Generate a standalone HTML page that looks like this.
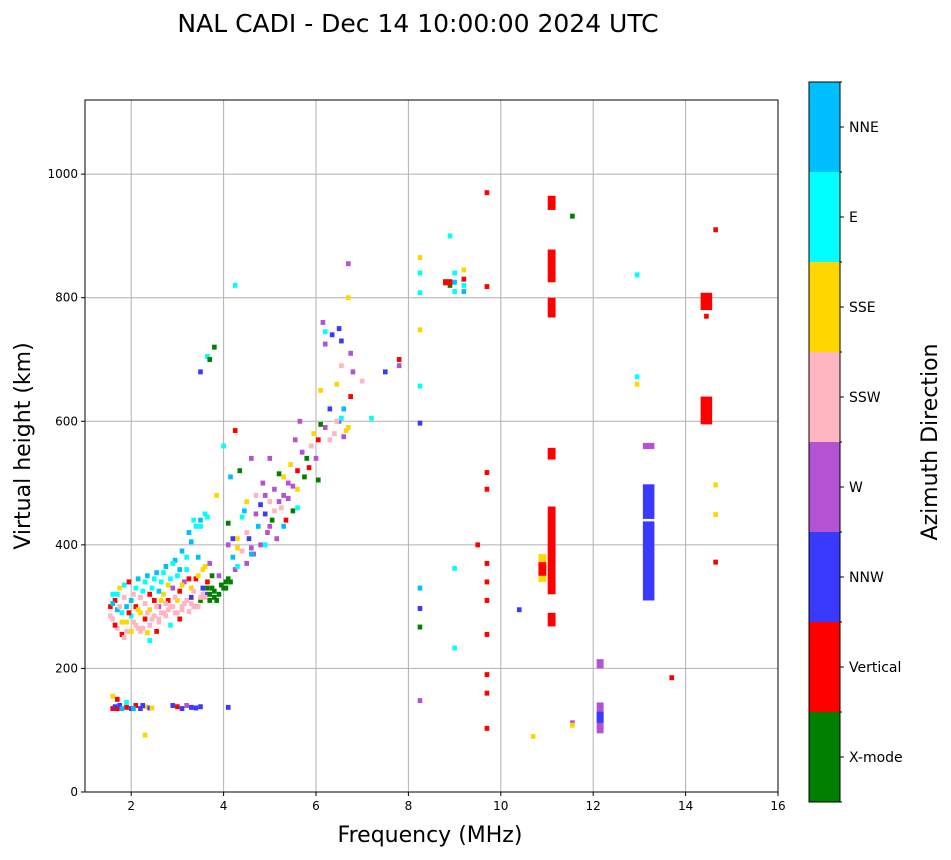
<!DOCTYPE html>
<html><head><meta charset="utf-8"><style>
body{margin:0;background:#fff;font-family:"DejaVu Sans","Liberation Sans",sans-serif}
svg text{font-family:"DejaVu Sans","Liberation Sans",sans-serif}
</style></head><body>
<svg id="chart" width="951" height="856">
<text x="418" y="32" font-size="25" text-anchor="middle">NAL CADI - Dec 14 10:00:00 2024 UTC</text>
<g id="grid"></g><g id="marks"></g><g id="axes"></g><g id="cbar"></g>
<text x="430" y="842" font-size="22" text-anchor="middle">Frequency (MHz)</text>
<text x="30" y="446" font-size="22" text-anchor="middle" transform="rotate(-90 30 446)">Virtual height (km)</text>
<text x="937" y="442" font-size="22" text-anchor="middle" transform="rotate(-90 937 442)">Azimuth Direction</text>
</svg>
<script>
const classNames=["X-mode","Vertical","NNW","W","SSW","SSE","E","NNE"];
const classColors=["#008000","#ff0000","#3a3aff","#b452d4","#ffb6c1","#ffd700","#00ffff","#00bfff"];
const xTicks=[2,4,6,8,10,12,14,16];
const yTicks=[0,200,400,600,800,1000];
const freqs=[1.55,1.6,1.6,1.65,1.7,1.7,1.75,1.8,1.8,1.85,1.9,1.9,1.95,2.0,2.0,2.05,2.1,2.1,2.15,2.2,2.2,2.25,2.3,2.3,2.35,2.4,2.4,2.45,2.5,2.5,2.55,2.6,2.6,2.65,2.7,2.7,2.75,2.8,2.8,2.85,2.9,2.9,2.95,3.0,3.0,3.05,3.1,3.1,3.15,3.2,3.2,3.25,3.3,3.3,3.35,3.4,3.4,3.45,3.5,3.5,3.55,3.6,3.6,3.65,3.7,3.7,3.75,3.8,3.85,3.9,3.9,4.0,4.0,4.05,4.1,4.1,4.15,4.2,4.25,4.3,4.35,4.4,4.45,4.5,4.5,4.55,4.6,4.65,4.7,4.75,4.8,4.85,4.9,4.95,5.0,5.0,5.05,5.1,5.15,5.2,5.25,5.3,5.35,5.4,5.45,5.5,5.55,5.6,5.65,5.75,5.85,5.9,6.0,6.05,6.1,6.15,6.2,6.3,6.35,6.4,6.45,6.5,6.5,6.55,6.6,6.65,6.7,6.7,6.75,6.8,7.0,7.2,7.5,7.8,7.8,
1.6,1.65,1.7,1.75,1.8,1.9,2.0,2.1,2.2,2.3,2.4,2.9,3.0,3.1,3.2,3.3,3.4,3.5,4.1,2.3,1.6,1.7,1.9,2.05,2.25,2.45,1.65,1.85,2.15,2.35,2.6,2.75,2.95,3.15,3.35,3.5,3.6,2.55,2.85,3.05,3.25,3.45,2.65,2.4,3.65,3.75,4.1,4.3,4.6,4.9,5.3,5.6,3.55,3.1,3.3,
8.25,8.25,8.25,8.25,8.25,8.25,8.25,8.25,8.25,8.25,8.9,8.9,8.9,9.0,9.0,9.5,9.7,9.7,9.7,9.7,9.7,9.7,9.7,9.7,9.7,9.7,9.7,10.4,10.7,11.55,11.55,11.55,12.95,12.95,12.95,13.7,14.65,14.65,14.65,14.65,14.45,4.25,3.65,
1.55,1.6,1.65,1.7,1.75,1.8,1.85,1.9,1.95,2.0,2.05,2.1,2.15,2.2,2.25,2.3,2.35,2.4,2.45,2.5,2.55,2.6,2.65,2.7,2.75,2.8,2.85,2.9,2.95,3.0,3.05,3.1,3.15,3.2,3.25,3.3,3.35,3.4,3.45,3.5,3.55,3.6,3.65,3.7,3.8,3.85,3.95,4.05,4.15,4.2,4.3,4.4,4.5,4.6,4.7,4.8,4.9,5.0,5.1,5.2,5.3,5.4,5.5,5.6,5.7,5.8,5.95,6.05,6.2,6.3,6.45,6.55,6.6,6.7,6.75,6.55,6.2,6.1,3.7,3.8,3.5,4.25,
9.0,9.0,9.0,9.2,9.2,9.2,9.2];
const heights=[300,320,280,310,295,265,330,290,255,315,275,300,340,260,285,320,300,270,345,290,260,325,280,305,350,270,295,330,285,310,355,300,280,340,320,290,365,310,295,345,330,300,375,310,350,325,300,390,340,310,360,420,330,315,440,345,300,380,310,430,360,450,320,340,310,370,330,315,480,320,350,330,560,340,435,400,510,380,360,410,520,390,455,370,470,410,540,385,480,430,400,500,450,420,540,470,440,490,410,515,460,480,440,500,530,455,570,490,600,510,525,560,540,505,595,760,745,620,740,580,660,750,600,690,620,585,855,800,640,680,665,605,680,700,690,
135,138,135,140,135,137,135,140,135,138,136,140,138,135,140,137,136,138,137,92,155,150,145,135,140,136,270,250,265,258,275,285,290,305,300,315,315,260,270,280,292,300,310,245,330,350,345,365,385,400,430,460,320,295,305,
865,840,808,748,657,597,330,297,267,148,900,825,820,362,233,400,970,818,517,490,370,340,310,255,190,160,103,295,90,932,112,108,837,672,660,185,910,497,449,372,770,585,705,
285,305,270,320,300,275,335,260,290,310,275,330,295,315,265,340,290,320,280,345,300,325,290,355,305,335,300,370,315,290,360,335,305,380,345,405,325,430,350,440,330,365,445,320,325,310,335,330,340,410,395,445,420,395,450,465,480,430,455,470,510,475,495,520,550,540,580,570,590,570,600,605,575,590,710,730,725,650,700,720,680,820,
840,825,810,845,830,820,810];
const classes=[1,6,4,1,7,4,5,6,1,4,5,7,1,5,6,4,1,4,7,5,4,6,1,4,7,4,5,6,4,1,7,3,4,6,5,4,7,1,4,6,3,4,7,5,6,1,4,7,3,4,6,7,5,2,6,1,3,7,0,6,5,6,2,1,0,3,0,0,5,0,3,0,6,0,0,3,7,7,3,5,0,4,7,3,5,2,3,3,4,7,3,3,2,3,3,4,0,3,3,0,4,3,1,3,5,0,3,5,3,0,1,4,3,0,0,3,6,2,2,4,5,2,3,4,7,5,3,5,1,3,4,6,2,1,3,
1,2,1,2,7,1,2,1,2,5,2,2,1,2,3,2,2,2,2,5,5,1,6,7,2,5,4,4,4,5,4,4,4,4,4,4,4,1,6,1,4,4,5,6,0,0,0,6,7,6,7,6,4,4,4,
5,6,6,5,6,2,7,2,0,3,6,1,0,6,6,1,1,1,1,1,1,1,1,1,1,1,1,2,5,0,3,5,6,6,5,1,1,5,5,1,1,1,6,
4,7,1,6,4,5,6,4,1,7,4,6,5,4,4,6,4,1,4,6,4,7,4,6,4,5,4,6,4,4,7,5,4,6,1,7,4,6,5,7,2,5,6,0,0,0,0,0,0,2,5,6,4,3,3,2,3,3,4,3,5,3,3,1,3,0,5,1,3,4,4,6,3,5,3,2,3,5,0,0,2,6,
6,7,6,5,1,6,7];
const colFreq=[11.1,11.1,11.1,11.1,11.1,11.1,13.2,13.2,13.2,14.45,14.45,12.15,12.15,12.15,10.9,10.9,8.85];
const colLow=[268,320,538,768,825,942,310,442,555,595,780,95,112,200,340,350,820];
const colHigh=[290,462,557,800,878,965,438,498,565,640,808,145,130,215,385,372,830];
const colClass=[1,1,1,1,1,1,2,2,3,1,1,3,2,3,5,1,1];
const colWidth=[0.17,0.17,0.17,0.17,0.17,0.17,0.25,0.25,0.25,0.25,0.25,0.15,0.15,0.15,0.17,0.17,0.2];

const ns="http://www.w3.org/2000/svg";
const L=85,R=778,T=100,B=792;
const xS=f=>L+(f-1)/15*(R-L);
const yS=h=>B-h/1120*(B-T);
function mk(t,a,p){const e=document.createElementNS(ns,t);for(const k in a)e.setAttribute(k,a[k]);p.appendChild(e);return e;}
const grid=document.getElementById('grid'),marks=document.getElementById('marks'),axes=document.getElementById('axes'),cbar=document.getElementById('cbar');
xTicks.forEach(t=>{const x=xS(t);
 const g=mk('line',{x1:x,x2:x,y1:T,y2:B,stroke:'#b0b0b0','stroke-width':1},grid);
 
 
 mk('line',{x1:x,x2:x,y1:B,y2:B+4,stroke:'#000'},axes);
 const tx=mk('text',{x:x,y:B+18,'font-size':12,'text-anchor':'middle'},axes);tx.textContent=t;
 
 });
yTicks.forEach(t=>{const y=yS(t);
 const g=mk('line',{x1:L,x2:R,y1:y,y2:y,stroke:'#b0b0b0','stroke-width':1},grid);
 
 
 mk('line',{x1:L-4,x2:L,y1:y,y2:y,stroke:'#000'},axes);
 const tx=mk('text',{x:L-7,y:y+4,'font-size':12,'text-anchor':'end'},axes);tx.textContent=t;
 
 });
const fr=mk('rect',{x:L,y:T,width:R-L,height:B-T,fill:'none',stroke:'#000'},axes);


freqs.forEach((f,i)=>{const x0=xS(f-0.05),x1=xS(f+0.05);
 const r=mk('rect',{x:x0,y:yS(heights[i]+4),width:x1-x0,height:yS(0)-yS(8),fill:classColors[classes[i]]},marks);
 
 });
colFreq.forEach((f,i)=>{const x0=xS(f-colWidth[i]/2),x1=xS(f+colWidth[i]/2);
 const r=mk('rect',{x:x0,y:yS(colHigh[i]),width:x1-x0,height:yS(colLow[i])-yS(colHigh[i]),fill:classColors[colClass[i]]},marks);
 
 });
const CT=82,CB=802,CL=809,CR=840,bh=(CB-CT)/classNames.length;
classNames.forEach((n,i)=>{const y=CB-(i+1)*bh;
 const r=mk('rect',{x:CL,y:y,width:CR-CL,height:bh,fill:classColors[i]},cbar);
 
 
 mk('line',{x1:CR,x2:CR+4,y1:y+bh/2,y2:y+bh/2,stroke:'#000'},cbar);
 const tx=mk('text',{x:CR+9,y:y+bh/2+5,'font-size':14},cbar);tx.textContent=n;
 
 });
for(let i=0;i<=classNames.length;i++){mk('line',{x1:CR,x2:CR+2,y1:CB-i*bh,y2:CB-i*bh,stroke:'#000'},cbar);}
mk('rect',{x:CL,y:CT,width:CR-CL,height:CB-CT,fill:'none',stroke:'#000'},cbar);
</script>
</body></html>
